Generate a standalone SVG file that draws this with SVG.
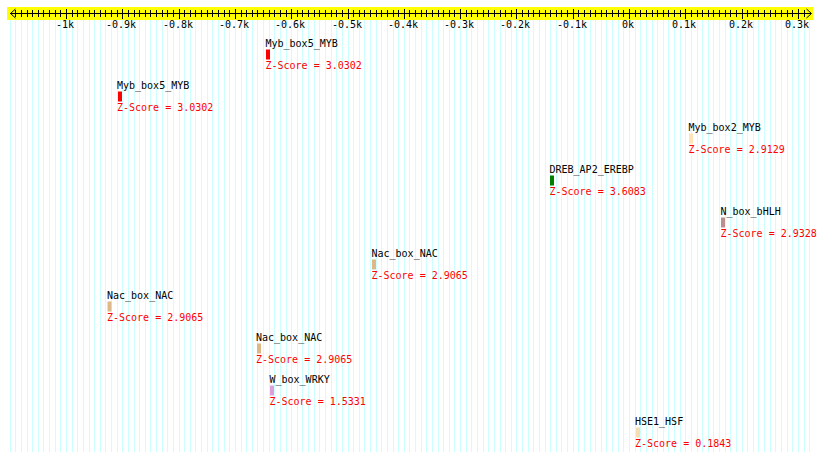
<svg xmlns="http://www.w3.org/2000/svg" width="820" height="461" viewBox="0 0 820 461">
<style>
.grid{stroke:#ccffff;stroke-width:1;fill:none;shape-rendering:crispEdges}
.tk{stroke:#000;stroke-width:1;fill:none;shape-rendering:crispEdges}
.ax{font-family:"DejaVu Sans Mono","Liberation Mono",monospace;font-size:10px;fill:#000;text-anchor:middle}
.lbl{font-family:"DejaVu Sans Mono","Liberation Mono",monospace;font-size:10px;fill:#000}
.zs{font-family:"DejaVu Sans Mono","Liberation Mono",monospace;font-size:10px;fill:#ff0000}
</style>
<rect x="0" y="0" width="820" height="461" fill="#ffffff"/>
<g id="grid">
<path class="grid" d="M10.5 20v432M15.5 20v432M21.5 20v432M27.5 20v432M32.5 20v432M38.5 20v432M43.5 20v432M49.5 20v432M55.5 20v432M60.5 20v432M66.5 20v432M72.5 20v432M77.5 20v432M83.5 20v432M89.5 20v432M94.5 20v432M100.5 20v432M105.5 20v432M111.5 20v432M117.5 20v432M122.5 20v432M128.5 20v432M134.5 20v432M139.5 20v432M145.5 20v432M150.5 20v432M156.5 20v432M162.5 20v432M167.5 20v432M173.5 20v432M179.5 20v432M184.5 20v432M190.5 20v432M195.5 20v432M201.5 20v432M207.5 20v432M212.5 20v432M218.5 20v432M224.5 20v432M229.5 20v432M235.5 20v432M241.5 20v432M246.5 20v432M252.5 20v432M257.5 20v432M263.5 20v432M269.5 20v432M274.5 20v432M280.5 20v432M286.5 20v432M291.5 20v432M297.5 20v432M302.5 20v432M308.5 20v432M314.5 20v432M319.5 20v432M325.5 20v432M331.5 20v432M336.5 20v432M342.5 20v432M348.5 20v432M353.5 20v432M359.5 20v432M364.5 20v432M370.5 20v432M376.5 20v432M381.5 20v432M387.5 20v432M393.5 20v432M398.5 20v432M404.5 20v432M409.5 20v432M415.5 20v432M421.5 20v432M426.5 20v432M432.5 20v432M438.5 20v432M443.5 20v432M449.5 20v432M454.5 20v432M460.5 20v432M466.5 20v432M471.5 20v432M477.5 20v432M483.5 20v432M488.5 20v432M494.5 20v432M500.5 20v432M505.5 20v432M511.5 20v432M516.5 20v432M522.5 20v432M528.5 20v432M533.5 20v432M539.5 20v432M545.5 20v432M550.5 20v432M556.5 20v432M561.5 20v432M567.5 20v432M573.5 20v432M578.5 20v432M584.5 20v432M590.5 20v432M595.5 20v432M601.5 20v432M606.5 20v432M612.5 20v432M618.5 20v432M623.5 20v432M629.5 20v432M635.5 20v432M640.5 20v432M646.5 20v432M652.5 20v432M657.5 20v432M663.5 20v432M668.5 20v432M674.5 20v432M680.5 20v432M685.5 20v432M691.5 20v432M697.5 20v432M702.5 20v432M708.5 20v432M713.5 20v432M719.5 20v432M725.5 20v432M730.5 20v432M736.5 20v432M742.5 20v432M747.5 20v432M753.5 20v432M758.5 20v432M764.5 20v432M770.5 20v432M775.5 20v432M781.5 20v432M787.5 20v432M792.5 20v432M798.5 20v432M804.5 20v432M809.5 20v432"/>
</g>
<g id="axis">
<rect x="7" y="7" width="806" height="13" fill="#ffff00"/>
<path class="tk" d="M10 13.5H811"/>
<path class="tk" d="M15.5 10v7M21.5 10v7M27.5 10v7M32.5 10v7M38.5 10v7M43.5 10v7M49.5 10v7M55.5 10v7M60.5 10v7M72.5 10v7M77.5 10v7M83.5 10v7M89.5 10v7M94.5 10v7M100.5 10v7M105.5 10v7M111.5 10v7M117.5 10v7M128.5 10v7M134.5 10v7M139.5 10v7M145.5 10v7M150.5 10v7M156.5 10v7M162.5 10v7M167.5 10v7M173.5 10v7M184.5 10v7M190.5 10v7M195.5 10v7M201.5 10v7M207.5 10v7M212.5 10v7M218.5 10v7M224.5 10v7M229.5 10v7M241.5 10v7M246.5 10v7M252.5 10v7M257.5 10v7M263.5 10v7M269.5 10v7M274.5 10v7M280.5 10v7M286.5 10v7M297.5 10v7M302.5 10v7M308.5 10v7M314.5 10v7M319.5 10v7M325.5 10v7M331.5 10v7M336.5 10v7M342.5 10v7M353.5 10v7M359.5 10v7M364.5 10v7M370.5 10v7M376.5 10v7M381.5 10v7M387.5 10v7M393.5 10v7M398.5 10v7M409.5 10v7M415.5 10v7M421.5 10v7M426.5 10v7M432.5 10v7M438.5 10v7M443.5 10v7M449.5 10v7M454.5 10v7M466.5 10v7M471.5 10v7M477.5 10v7M483.5 10v7M488.5 10v7M494.5 10v7M500.5 10v7M505.5 10v7M511.5 10v7M522.5 10v7M528.5 10v7M533.5 10v7M539.5 10v7M545.5 10v7M550.5 10v7M556.5 10v7M561.5 10v7M567.5 10v7M578.5 10v7M584.5 10v7M590.5 10v7M595.5 10v7M601.5 10v7M606.5 10v7M612.5 10v7M618.5 10v7M623.5 10v7M635.5 10v7M640.5 10v7M646.5 10v7M652.5 10v7M657.5 10v7M663.5 10v7M668.5 10v7M674.5 10v7M680.5 10v7M691.5 10v7M697.5 10v7M702.5 10v7M708.5 10v7M713.5 10v7M719.5 10v7M725.5 10v7M730.5 10v7M736.5 10v7M747.5 10v7M753.5 10v7M758.5 10v7M764.5 10v7M770.5 10v7M775.5 10v7M781.5 10v7M787.5 10v7M792.5 10v7M804.5 10v7"/>
<path class="tk" d="M66.5 9v10M122.5 9v10M179.5 9v10M235.5 9v10M291.5 9v10M348.5 9v10M404.5 9v10M460.5 9v10M516.5 9v10M573.5 9v10M629.5 9v10M685.5 9v10M742.5 9v10M798.5 9v10"/>
<polyline points="15.5,9 10.5,13.5 15.5,18" fill="none" stroke="#000" stroke-width="1"/>
<polyline points="806.5,9 811.5,13.5 806.5,18" fill="none" stroke="#000" stroke-width="1"/>
<text class="ax" x="65" y="28">-1k</text>
<text class="ax" x="121" y="28">-0.9k</text>
<text class="ax" x="178" y="28">-0.8k</text>
<text class="ax" x="234" y="28">-0.7k</text>
<text class="ax" x="290" y="28">-0.6k</text>
<text class="ax" x="347" y="28">-0.5k</text>
<text class="ax" x="403" y="28">-0.4k</text>
<text class="ax" x="459" y="28">-0.3k</text>
<text class="ax" x="515" y="28">-0.2k</text>
<text class="ax" x="572" y="28">-0.1k</text>
<text class="ax" x="628" y="28">0k</text>
<text class="ax" x="684" y="28">0.1k</text>
<text class="ax" x="741" y="28">0.2k</text>
<text class="ax" x="797" y="28">0.3k</text>
</g>
<g id="connectors"/>
<g id="node1">
<text class="lbl" x="265.5" y="46.5">Myb_box5_MYB</text>
<rect x="266" y="49.5" width="4" height="10" fill="#ff0000"/>
<text class="zs" x="265.5" y="69">Z-Score = 3.0302</text>
</g>
<g id="node2">
<text class="lbl" x="117" y="88.5">Myb_box5_MYB</text>
<rect x="118" y="91.5" width="4" height="10" fill="#ff0000"/>
<text class="zs" x="117" y="111">Z-Score = 3.0302</text>
</g>
<g id="node3">
<text class="lbl" x="688.5" y="130.5">Myb_box2_MYB</text>
<rect x="689" y="133.5" width="4" height="10" fill="#ffe4b5"/>
<text class="zs" x="688.5" y="153">Z-Score = 2.9129</text>
</g>
<g id="node4">
<text class="lbl" x="549.5" y="172.5">DREB_AP2_EREBP</text>
<rect x="550" y="175.5" width="4" height="10" fill="#008000"/>
<text class="zs" x="549.5" y="195">Z-Score = 3.6083</text>
</g>
<g id="node5">
<text class="lbl" x="720.5" y="214.5">N_box_bHLH</text>
<rect x="721" y="217.5" width="4" height="10" fill="#bc8f8f"/>
<text class="zs" x="720.5" y="237">Z-Score = 2.9328</text>
</g>
<g id="node6">
<text class="lbl" x="371.5" y="256.5">Nac_box_NAC</text>
<rect x="372" y="259.5" width="4" height="10" fill="#deb887"/>
<text class="zs" x="371.5" y="279">Z-Score = 2.9065</text>
</g>
<g id="node7">
<text class="lbl" x="107" y="298.5">Nac_box_NAC</text>
<rect x="107.5" y="301.5" width="4" height="10" fill="#deb887"/>
<text class="zs" x="107" y="321">Z-Score = 2.9065</text>
</g>
<g id="node8">
<text class="lbl" x="256" y="340.5">Nac_box_NAC</text>
<rect x="257" y="343.5" width="4" height="10" fill="#deb887"/>
<text class="zs" x="256" y="363">Z-Score = 2.9065</text>
</g>
<g id="node9">
<text class="lbl" x="269.5" y="382.5">W_box_WRKY</text>
<rect x="270" y="385.5" width="4" height="10" fill="#dda0dd"/>
<text class="zs" x="269.5" y="405">Z-Score = 1.5331</text>
</g>
<g id="node10">
<text class="lbl" x="635" y="424.5">HSE1_HSF</text>
<rect x="636" y="427.5" width="4" height="10" fill="#f5deb3"/>
<text class="zs" x="635" y="447">Z-Score = 0.1843</text>
</g>
</svg>
